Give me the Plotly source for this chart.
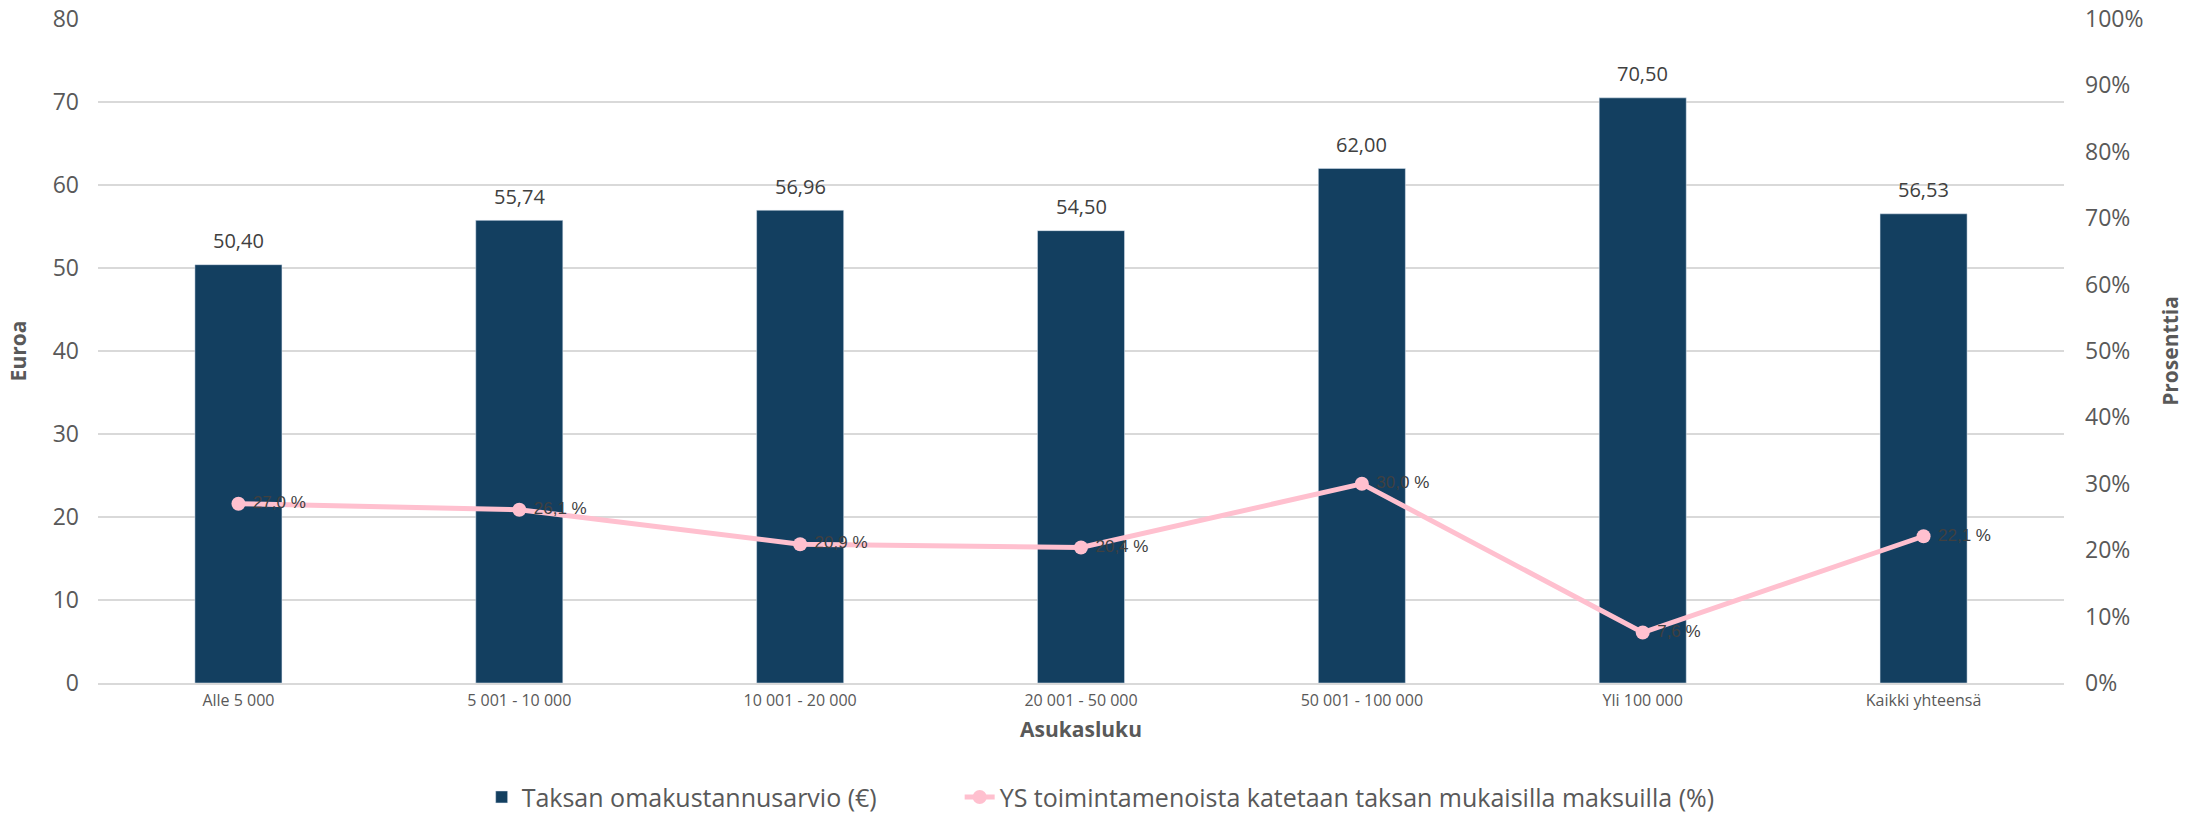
import plotly.graph_objects as go

# 아래 값은 그림에서 읽은 값
categories = ['Alle 5 000', '5 001 - 10 000', '10 001 - 20 000', '20 001 - 50 000',
              '50 001 - 100 000', 'Yli 100 000', 'Kaikki yhteensä']
omakustannus = [50.40, 55.74, 56.96, 54.50, 62.00, 70.50, 56.53]
kateosuus = [27.0, 26.1, 20.9, 20.4, 30.0, 7.6, 22.1]

bar_color = '#133f60'
line_color = '#ffc0cf'
grid_color = '#d9d9d9'
text_gray = '#595959'

fig = go.Figure()
fig.add_trace(go.Bar(
    x=categories,
    y=omakustannus,
    name='Taksan omakustannusarvio (€)' + '\u00a0' * 12,
    marker=dict(color=bar_color)
    ))
fig.add_trace(go.Scatter(
    x=categories,
    y=kateosuus,
    name='YS toimintamenoista katetaan taksan mukaisilla maksuilla (%)',
    yaxis='y2',
    mode='lines+markers+text',
    line=dict(color=line_color, width=5),
    marker=dict(color=line_color, size=14),
    texttemplate='\u00a0%{y:.1f} %',
    textposition='middle right',
    textfont=dict(family='Liberation Sans', size=17, color='#404040')
    ))

# 막대 위 값 표시 (소수점 쉼표)
for cat, val in zip(categories, omakustannus):
    fig.add_annotation(
        x=cat,
        y=val,
        text=f'{val:.2f}'.replace('.', ','),
        showarrow=False,
        yanchor='middle',
        yshift=24,
        font=dict(family='Open Sans', size=20, color='#404040')
        )

fig.update_layout(
    width=2198,
    height=814,
    separators=', ',
    plot_bgcolor='white',
    paper_bgcolor='white',
    bargap=0.69,
    margin=dict(l=98, r=134, t=19, b=131, autoexpand=False),
    font=dict(family='Open Sans', color=text_gray),
    xaxis=dict(
        title=dict(text='<b>Asukasluku</b>', font=dict(family='Open Sans', size=21, color=text_gray), standoff=12),
        tickfont=dict(family='Open Sans', size=16, color=text_gray),
        showline=True,
        linecolor=grid_color,
        linewidth=2,
        ticks='',
        ticklabelstandoff=2
        ),
    yaxis=dict(
        title=dict(text='<b>Euroa</b>', font=dict(family='Open Sans', size=21, color=text_gray), standoff=20),
        range=[0, 80],
        dtick=10,
        gridcolor=grid_color,
        gridwidth=1.5,
        zeroline=False,
        tickfont=dict(family='Open Sans', size=23, color=text_gray),
        ticklabelstandoff=18,
        ticklabeloverflow='allow'
        ),
    yaxis2=dict(
        title=dict(text='<b>Prosenttia</b>', font=dict(family='Open Sans', size=21, color=text_gray), standoff=20),
        overlaying='y',
        side='right',
        range=[0, 100],
        dtick=10,
        ticksuffix='%',
        showgrid=False,
        zeroline=False,
        tickfont=dict(family='Open Sans', size=23, color=text_gray),
        ticklabelstandoff=20,
        ticklabeloverflow='allow'
        ),
    legend=dict(
        orientation='h',
        x=0.51,
        xanchor='center',
        y=-0.172,
        yanchor='middle',
        font=dict(family='Open Sans', size=25, color=text_gray),
        tracegroupgap=0
        ),
    showlegend=True
    )

fig.write_html('out.html', config={'displayModeBar': False},
               post_script="document.body.style.margin='0';")
